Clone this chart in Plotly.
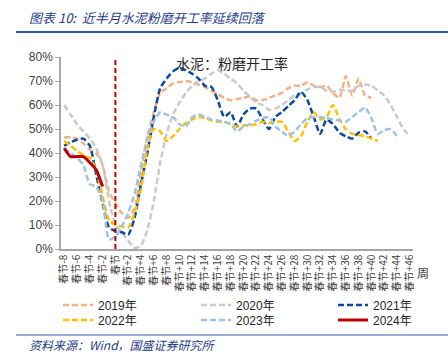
import plotly.graph_objects as go

weeks = list(range(-8, 47))
week_labels = ["春节" if w == 0 else (f"春节+{w}" if w > 0 else f"春节{w}") for w in weeks]
tick_labels = week_labels[::2]

s2019 = [46.5, 46.5, 46, 44, 41.5, 40, 35, 24,
         19, 15, 13, 17, 32, 47, 57, 65, 67, 69,
         69.5, 70, 69.5, 68.5, 67.5, 66, 64.5, 63, 62, 62.5,
         63, 63.5, 62, 62, 63, 64, 65, 67, 68, 68,
         69.5, 68, 67.5, 68, 65, 63, 72, 64, 71, 64, 63]
s2020 = [60, 56, 52, 49, 46, 42, 35, 20,
         10, 7, 3.5, 0.5, 1.5, 8, 20, 36, 48, 56,
         61, 65, 68, 70, 71, 73, 74.5, 73, 71, 69,
         66, 63.5, 61, 60, 58, 58.5, 60, 62, 64, 65,
         66.5, 67.5, 67.5, 66, 65.5, 66.5, 66, 66, 68, 68.5,
         68, 66, 64, 60, 55, 50, 47]
s2021 = [43, 44.5, 45.5, 46, 43, 31, 19, 9,
         7.5, 7, 6, 13, 27, 40, 55, 67, 71, 74,
         75.5, 74.5, 73, 71, 68, 67.5, 62, 55, 57, 51,
         56, 58.5, 58.5, 54, 50, 55, 57, 59.5, 62, 65.5,
         62, 55, 48, 54, 52, 48.5, 47, 46, 48.5, 49, 46]
s2022 = [45, 43, 41, 39, 38, 33, 22, 12,
         10, 9.5, 9, 15, 25, 42, 50, 49, 45, 47,
         50, 52.5, 54, 55, 54.5, 53.5, 53, 53, 52, 51,
         51.5, 51.5, 52, 53, 52.5, 53, 53, 49, 45, 47,
         53, 57, 54, 55, 60, 54, 50, 48, 47.5, 47, 46, 45]
s2023 = [42, 40, 38, 35, 27, 26, 20, 4,
         5, 9.5, 15, 23, 35, 46, 53, 57, 56, 55,
         52, 51, 55, 56, 55, 54, 53.5, 53, 52, 49,
         51, 52, 53.5, 54.5, 55, 51, 49, 47, 49, 52,
         54.5, 55, 55, 54.5, 54, 53.5, 53, 55, 57, 59,
         54.5, 48, 49.5, 50, 47]
s2024 = [42, 38.5, 38.5, 38.5, 36, 33, 26]

series = [
    ("2019年", s2019, "#F4B183", "dash"),
    ("2020年", s2020, "#CACACA", "dash"),
    ("2021年", s2021, "#0B4A9E", "dash"),
    ("2022年", s2022, "#FFC000", "dash"),
    ("2023年", s2023, "#9DC3E6", "dash"),
    ("2024年", s2024, "#C00000", "solid"),
]

spring_festival = "春节"

W, H = 448, 357
L, R, T, B = 61, 35, 57, 108
pw, ph = W - L - R, H - T - B

def px(x):
    return (x - L) / pw

def py(y):
    return (H - B - y) / ph

# legend slots (pixel left of each entry box, row centre)
legend_cols = [58, 196, 333]
legend_rows = [305, 320]

fig = go.Figure()
legend_layouts = {}
for i, (name, vals, color, dash) in enumerate(series):
    lname = "legend" if i == 0 else f"legend{i + 1}"
    fig.add_trace(go.Scatter(
        x=week_labels[:len(vals)], y=vals, name=name, mode="lines", legend=lname,
        line=dict(color=color, width=3 if dash == "solid" else 2.5,
                  dash="6px,3px" if dash == "dash" else "solid",
                  shape="spline", smoothing=0.6),
    ))
    legend_layouts[lname] = dict(
        x=px(legend_cols[i % 3]), y=py(legend_rows[i // 3]), xanchor="left", yanchor="middle",
        orientation="v", bgcolor="rgba(0,0,0,0)", borderwidth=0,
        font=dict(family="Liberation Sans, Noto Sans CJK SC", size=12, color="#262626"),
    )

fig.add_shape(type="line", xref="x", yref="paper", x0=spring_festival, x1=spring_festival,
              y0=0, y1=0.985, line=dict(color="#C00000", width=2, dash="5px,3px"))

fig.add_shape(type="line", xref="paper", yref="paper", x0=px(16), x1=px(448), y0=py(32), y1=py(32),
              line=dict(color="#2E5AAC", width=2))
fig.add_shape(type="line", xref="paper", yref="paper", x0=px(16), x1=px(448), y0=py(335), y1=py(335),
              line=dict(color="#2E5AAC", width=1.2))

fig.add_annotation(xref="paper", yref="paper", x=px(27), y=py(17), xanchor="left", yanchor="middle",
                   text="图表 10:  近半月水泥粉磨开工率延续回落", showarrow=False,
                   font=dict(family="Noto Sans CJK SC", size=13, color="#1F3C88", style="italic"))
fig.add_annotation(xref="paper", yref="paper", x=px(27), y=py(344), xanchor="left", yanchor="middle",
                   text="资料来源：Wind，国盛证券研究所", showarrow=False,
                   font=dict(family="Noto Sans CJK SC", size=12, color="#1F3C88", style="italic"))
fig.add_annotation(xref="paper", yref="paper", x=px(232), y=py(63), xanchor="center", yanchor="middle",
                   text="水泥：粉磨开工率", showarrow=False,
                   font=dict(family="Noto Sans CJK SC", size=14, color="#262626"))
fig.add_annotation(xref="paper", yref="paper", x=px(423), y=py(272), xanchor="center", yanchor="middle",
                   text="周", showarrow=False,
                   font=dict(family="Noto Sans CJK SC", size=12, color="#404040"))

fig.update_layout(
    width=W, height=H,
    margin=dict(l=L, r=R, t=T, b=B, pad=0, autoexpand=False),
    paper_bgcolor="white", plot_bgcolor="white",
    font=dict(family="Liberation Sans, Noto Sans CJK SC", color="#404040"),
    showlegend=True,
    xaxis=dict(type="category", categoryorder="array", categoryarray=week_labels,
               range=[-0.5, len(week_labels) - 0.5],
               tickmode="array", tickvals=tick_labels, ticktext=tick_labels,
               tickangle=-90, tickfont=dict(family="Noto Sans CJK SC", size=10, color="#404040"),
               showline=True, linecolor="#A6A6A6", linewidth=1.5, ticks="", showgrid=False,
               zeroline=False, automargin=False),
    yaxis=dict(range=[0, 80], dtick=10, ticksuffix="%",
               tickfont=dict(family="Liberation Sans", size=12, color="#404040"),
               showline=True, linecolor="#A6A6A6", linewidth=1.5, ticks="outside",
               ticklen=4, tickcolor="#A6A6A6", showgrid=False, zeroline=False, automargin=False),
    **legend_layouts,
)

fig.write_html("out.html", config={"displayModeBar": False},
               post_script="document.body.style.margin='0';")
